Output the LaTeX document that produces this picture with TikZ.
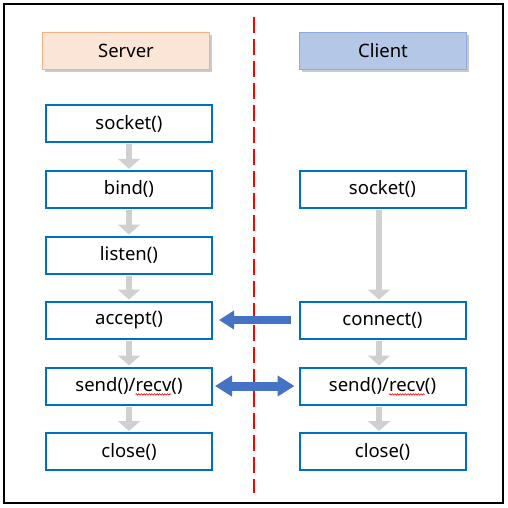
\documentclass[tikz,border=0pt]{standalone}
\usepackage{fontspec}
\setmainfont{Noto Sans}
\usetikzlibrary{arrows.meta,shadows,decorations.pathmorphing}
\definecolor{boxblue}{HTML}{0070C0}
\definecolor{arrowblue}{HTML}{4472C4}
\definecolor{flowgray}{HTML}{D0D0D0}
\definecolor{srvfill}{HTML}{FBE5D6}
\definecolor{srvline}{HTML}{F4B183}
\definecolor{clifill}{HTML}{B4C7E7}
\definecolor{cliline}{HTML}{8FAADC}
\newcommand\squigword[1]{\setbox0=\hbox{#1}\rlap{\tikz[overlay,baseline=0pt]\draw[red,line width=0.6pt,decorate,decoration={snake,amplitude=0.7pt,segment length=2.6pt}] (0pt,-2.8pt) -- (\the\wd0,-2.8pt);}\box0}
\begin{document}
\begin{tikzpicture}[x=1pt,y=-1pt,
  txt/.style={font=\fontsize{18.5}{21}\selectfont},
  stepbox/.style={txt,draw=boxblue,line width=2pt,minimum width=166pt,minimum height=37pt,inner sep=0pt},
  headbox/.style={txt,line width=1pt,minimum width=167pt,minimum height=37pt,inner sep=0pt,
     drop shadow={shadow xshift=2.5pt,shadow yshift=-2.5pt,opacity=0.35,fill=black!60}},
  grayflow/.style={draw=flowgray,line width=6pt,-{Triangle[width=22pt,length=10pt]}},
  blueone/.style={draw=arrowblue,line width=8pt,-{Triangle[width=18pt,length=15pt]}},
  bluetwo/.style={draw=arrowblue,line width=9pt,{Triangle[width=20pt,length=17pt]}-{Triangle[width=20pt,length=17pt]}}
]
\useasboundingbox (0,0) rectangle (508,507);
\draw[line width=2pt] (4,4) rectangle (503,503);

\coordinate (dtop) at (254,17);
\coordinate (dbot) at (254,493);
\draw[red,line width=2pt,dash pattern=on 16pt off 6pt] (dtop) -- (dbot);

\node[headbox,draw=srvline,fill=srvfill] (server) at (126,51) {Server};
\node[headbox,draw=cliline,fill=clifill] (client) at (383,51) {Client};

\node[stepbox] (s1) at (129,123.5) {socket()};
\node[stepbox] (s2) at (129,189.3) {bind()};
\node[stepbox] (s3) at (129,255) {listen()};
\node[stepbox] (s4) at (129,320) {accept()};
\node[stepbox] (s5) at (129,386) {send()/\squigword{recv}()};
\node[stepbox] (s6) at (129,451.5) {close()};

\node[stepbox] (c1) at (382.5,189.3) {socket()};
\node[stepbox] (c2) at (382.5,320) {connect()};
\node[stepbox] (c3) at (382.5,386) {send()/\squigword{recv}()};
\node[stepbox] (c4) at (382.5,451.5) {close()};

\draw[grayflow] ([yshift=-1pt]s1.south) -- ([yshift=1pt]s2.north);
\draw[grayflow] ([yshift=-1pt]s2.south) -- ([yshift=1pt]s3.north);
\draw[grayflow] ([yshift=-1pt]s3.south) -- ([yshift=1pt]s4.north);
\draw[grayflow] ([yshift=-1pt]s4.south) -- ([yshift=1pt]s5.north);
\draw[grayflow] ([yshift=-1pt]s5.south) -- ([yshift=1pt]s6.north);

\draw[grayflow] ([xshift=-3.5pt,yshift=-1pt]c1.south) -- ([xshift=-3.5pt,yshift=1pt]c2.north);
\draw[grayflow] ([xshift=-3.5pt,yshift=-1pt]c2.south) -- ([xshift=-3.5pt,yshift=1pt]c3.north);
\draw[grayflow] ([xshift=-3.5pt,yshift=-1pt]c3.south) -- ([xshift=-3.5pt,yshift=1pt]c4.north);

\draw[blueone] ([xshift=-8pt]c2.west) -- ([xshift=6pt]s4.east);
\draw[bluetwo] ([xshift=2pt]s5.east) -- ([xshift=-4pt]c3.west);
\end{tikzpicture}
\end{document}
